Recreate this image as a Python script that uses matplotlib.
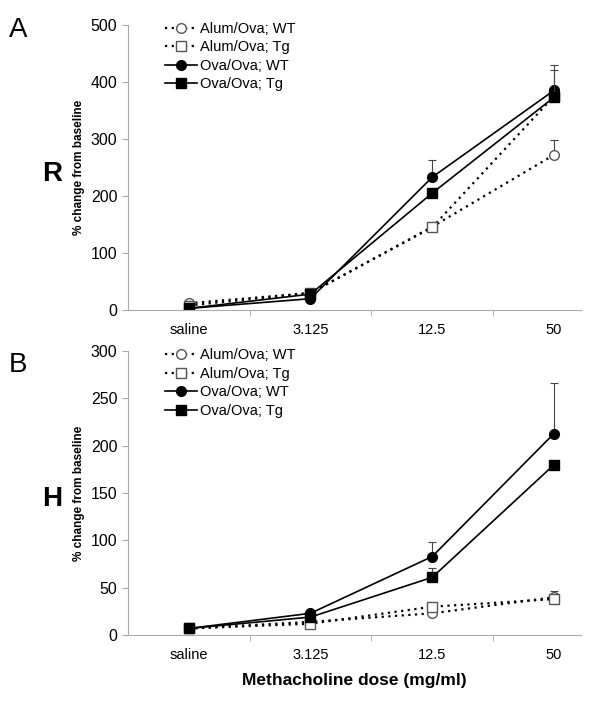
import numpy as np
import matplotlib.pyplot as plt

plt.rcParams['font.family'] = ['Liberation Sans', 'DejaVu Sans']

doses = ['saline', '3.125', '12.5', '50']
labels = ['Alum/Ova; WT', 'Alum/Ova; Tg', 'Ova/Ova; WT', 'Ova/Ova; Tg']

# panel A (R)
r_alum_wt = [12, 30, 146, 272]
r_alum_tg = [8, 30, 145, 375]
r_ova_wt = [3, 20, 233, 385]
r_ova_tg = [3, 28, 205, 373]
r_err_alum_wt = [0, 0, 0, 26]
r_err_alum_tg = [0, 0, 10, 0]
r_err_ova_wt = [0, 0, 30, 45]
r_err_ova_tg = [0, 0, 0, 48]

# panel B (H)
h_alum_wt = [7, 14, 23, 40]
h_alum_tg = [7, 12, 30, 38]
h_ova_wt = [7, 23, 83, 213]
h_ova_tg = [7, 19, 61, 180]
h_err_alum_wt = [0, 0, 0, 7]
h_err_alum_tg = [0, 0, 0, 0]
h_err_ova_wt = [0, 0, 15, 53]
h_err_ova_tg = [0, 0, 10, 0]

styles = [
    dict(ls=(0, (1, 2)), marker='o', mfc='white', mec='#555555', color='black', lw=1.6),
    dict(ls=(0, (1, 2)), marker='s', mfc='white', mec='#555555', color='black', lw=1.6),
    dict(ls='-', marker='o', mfc='black', mec='black', color='black', lw=1.2),
    dict(ls='-', marker='s', mfc='black', mec='black', color='black', lw=1.2),
]

fig = plt.figure(figsize=(6, 7.08), dpi=100)
ax1 = fig.add_axes([0.213, 0.562, 0.755, 0.403])
ax2 = fig.add_axes([0.213, 0.103, 0.755, 0.401])

x = np.arange(len(doses))


def draw(ax, series, errs, ymax, step):
    for s, e, st, lab in zip(series, errs, styles, labels):
        ax.errorbar(x, s, yerr=[np.zeros(len(e)), e], fmt='none',
                    ecolor='#444444', elinewidth=0.8, capsize=3, capthick=0.8)
        ax.plot(x, s, ms=7, label=lab, **st)
    ax.set_xlim(-0.5, 3.22)
    ax.set_ylim(0, ymax)
    ax.set_yticks(np.arange(0, ymax + 1, step))
    ax.set_xticks(x)
    ax.set_xticklabels(doses)
    ax.set_xticks([0.5, 1.5, 2.5], minor=True)
    ax.tick_params(axis='x', which='major', length=0, labelsize=10.5, pad=9)
    ax.tick_params(axis='x', which='minor', length=4, color='#aaaaaa')
    ax.tick_params(axis='y', length=4, color='#aaaaaa', labelsize=11.5)
    for sp in ['top', 'right']:
        ax.spines[sp].set_visible(False)
    for sp in ['left', 'bottom']:
        ax.spines[sp].set_color('#aaaaaa')
    ax.set_ylabel('% change from baseline', fontsize=8.5, fontweight='bold')
    ax.legend(loc='upper left', bbox_to_anchor=(0.07, 1.03), frameon=False,
              fontsize=10.5, handlelength=2.2, handletextpad=0.2,
              labelspacing=0.3, borderaxespad=0)


draw(ax1, [r_alum_wt, r_alum_tg, r_ova_wt, r_ova_tg],
     [r_err_alum_wt, r_err_alum_tg, r_err_ova_wt, r_err_ova_tg], 500, 100)
draw(ax2, [h_alum_wt, h_alum_tg, h_ova_wt, h_ova_tg],
     [h_err_alum_wt, h_err_alum_tg, h_err_ova_wt, h_err_ova_tg], 300, 50)

ax2.set_xlabel('Methacholine dose (mg/ml)', fontsize=12.5, fontweight='bold',
               labelpad=8)

fig.text(0.015, 0.948, 'A', fontsize=20)
fig.text(0.015, 0.475, 'B', fontsize=20)
fig.text(0.07, 0.745, 'R', fontsize=20, fontweight='bold')
fig.text(0.07, 0.285, 'H', fontsize=20, fontweight='bold')

fig.savefig('out.png', dpi=100)
